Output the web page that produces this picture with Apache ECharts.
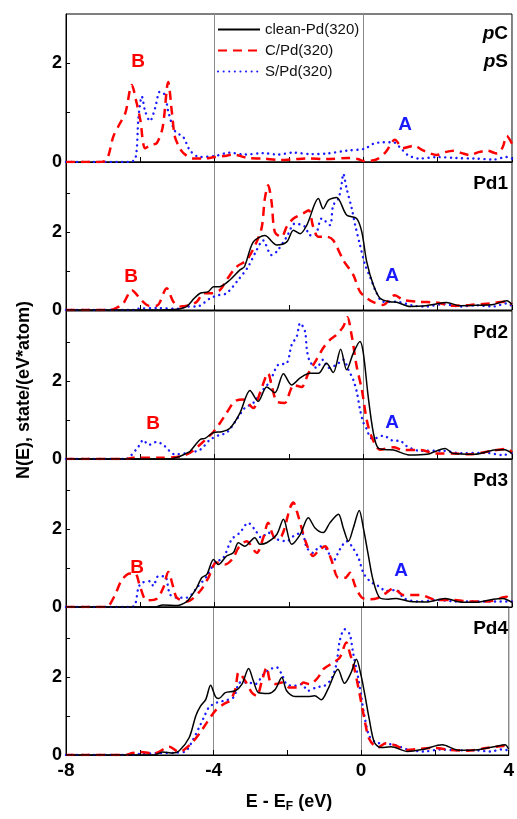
<!DOCTYPE html>
<html><head><meta charset="utf-8">
<script src="https://cdn.jsdelivr.net/npm/echarts@6/dist/echarts.min.js"></script>
<style>html,body{margin:0;padding:0;background:#fff}#c{width:517px;height:819px}</style>
</head><body><div id="c"></div>
<script>
// ---- data ----
const seriesNames = ['clean-Pd(320)', 'C/Pd(320)', 'S/Pd(320)'];
const panelNames = ['pC/pS', 'Pd1', 'Pd2', 'Pd3', 'Pd4'];
const yMaxes = [3, 3.8, 3.8, 3.8, 3.8];
const xMin = -8, xMax = 4;

// top panel: p-states of adsorbate
const pC = [[-8,0],[-7.2,0],[-6.95,0.02],[-6.85,0.15],[-6.73,0.51],[-6.55,0.78],[-6.4,1.0],[-6.23,1.56],[-6.1,1.2],[-6.0,0.85],[-5.87,0.28],[-5.7,0.35],[-5.56,0.38],[-5.4,0.7],[-5.25,1.62],[-5.15,1.0],[-5.07,0.51],[-4.95,0.3],[-4.84,0.18],[-4.6,0.07],[-4.3,0.07],[-4.0,0.1],[-3.75,0.12],[-3.5,0.15],[-3.1,0.08],[-2.7,0.07],[-2.24,0.04],[-1.8,0.06],[-1.5,0.07],[-1.0,0.06],[-0.4,0.08],[-0.15,0.06],[0,0.02],[0.35,0.05],[0.6,0.2],[0.85,0.45],[1.07,0.28],[1.35,0.33],[1.62,0.23],[1.98,0.14],[2.2,0.2],[2.43,0.23],[2.65,0.18],[2.88,0.14],[3.1,0.2],[3.33,0.23],[3.6,0.17],[3.75,0.3],[3.86,0.53],[4.0,0.37]];
const pS = [[-8,0],[-6.3,0],[-6.13,0.07],[-6.05,0.9],[-5.96,1.33],[-5.87,1.03],[-5.74,0.83],[-5.6,1.1],[-5.47,1.43],[-5.34,1.36],[-5.25,1.03],[-5.07,0.63],[-4.84,0.5],[-4.66,0.23],[-4.4,0.1],[-4.0,0.12],[-3.6,0.19],[-3.2,0.15],[-2.7,0.18],[-2.3,0.15],[-1.9,0.19],[-1.4,0.16],[-1.0,0.17],[-0.45,0.23],[0.04,0.27],[0.27,0.37],[0.54,0.4],[0.81,0.4],[0.98,0.3],[1.2,0.14],[1.5,0.07],[2.0,0.1],[2.5,0.08],[3.0,0.07],[3.5,0.05],[3.85,0.1],[4.0,0.07]];

// Pd1
const pd1Clean = [[-8,0],[-5.4,0],[-5.1,0.01],[-4.92,0.03],[-4.75,0.09],[-4.55,0.3],[-4.39,0.43],[-4.17,0.47],[-4.03,0.6],[-3.87,0.6],[-3.59,0.77],[-3.32,1.03],[-3.2,1.11],[-2.96,1.75],[-2.65,1.91],[-2.33,1.67],[-2.06,1.75],[-1.88,2.05],[-1.7,1.96],[-1.52,2.18],[-1.21,2.86],[-1.08,2.6],[-0.94,2.82],[-0.72,2.89],[-0.45,2.44],[-0.18,2.35],[-0.04,2.0],[0.09,1.24],[0.27,0.64],[0.45,0.3],[0.72,0.21],[0.9,0.2],[1.26,0.09],[1.6,0.1],[1.88,0.14],[2.24,0.19],[2.6,0.11],[3.05,0.12],[3.5,0.14],[3.86,0.24],[4.0,0.14]];
const pd1C = [[-8,0],[-6.9,0],[-6.7,0.03],[-6.46,0.17],[-6.23,0.51],[-5.98,0.26],[-5.77,0.11],[-5.56,0.11],[-5.29,0.56],[-5.11,0.21],[-4.93,0.09],[-4.7,0.12],[-4.48,0.21],[-4.3,0.43],[-4.08,0.43],[-3.86,0.51],[-3.68,0.77],[-3.41,1.11],[-3.14,1.28],[-2.87,1.75],[-2.73,2.14],[-2.65,2.86],[-2.56,3.2],[-2.47,2.78],[-2.38,2.0],[-2.2,1.88],[-2.06,2.14],[-1.88,2.35],[-1.62,2.48],[-1.47,2.56],[-1.35,2.14],[-1.21,1.88],[-0.98,1.88],[-0.81,1.79],[-0.54,1.28],[-0.27,0.9],[-0.09,0.47],[0.1,0.3],[0.27,0.2],[0.53,0.13],[0.85,0.38],[1.07,0.26],[1.52,0.21],[1.97,0.19],[2.4,0.11],[2.87,0.13],[3.4,0.17],[3.86,0.21],[4.0,0.14]];
const pd1S = [[-8,0],[-6.2,0],[-6.1,0.03],[-5.5,0.05],[-5.0,0.03],[-4.75,0.09],[-4.48,0.09],[-4.12,0.3],[-3.9,0.38],[-3.68,0.43],[-3.37,0.77],[-3.1,1.11],[-2.87,1.54],[-2.7,1.79],[-2.47,1.41],[-2.33,1.5],[-2.06,1.88],[-1.84,2.22],[-1.57,2.14],[-1.44,1.92],[-1.3,1.92],[-1.12,2.35],[-0.9,2.18],[-0.81,2.69],[-0.67,2.86],[-0.58,3.25],[-0.54,3.5],[-0.45,3.12],[-0.31,2.6],[-0.22,2.18],[-0.09,1.67],[0.05,1.15],[0.18,0.85],[0.36,0.43],[0.53,0.21],[0.89,0.21],[1.35,0.11],[1.7,0.09],[2.15,0.15],[2.6,0.09],[3.05,0.12],[3.5,0.09],[3.86,0.17],[4.0,0.1]];

// Pd2
const pd2Clean = [[-8,0],[-5.3,0],[-5.02,0.04],[-4.75,0.15],[-4.66,0.2],[-4.39,0.5],[-4.26,0.53],[-4.03,0.68],[-3.81,0.7],[-3.59,0.79],[-3.32,1.18],[-3.05,1.76],[-2.83,1.48],[-2.6,1.85],[-2.38,1.7],[-2.15,2.19],[-1.93,1.9],[-1.7,2.08],[-1.44,2.2],[-1.21,2.2],[-0.99,2.46],[-0.81,2.22],[-0.61,2.82],[-0.45,2.29],[-0.27,2.72],[-0.09,3.02],[0,2.72],[0.13,1.61],[0.27,0.67],[0.4,0.28],[0.63,0.24],[0.81,0.23],[1.26,0.1],[1.71,0.12],[2.2,0.27],[2.42,0.14],[3.0,0.12],[3.52,0.23],[3.8,0.24],[4.0,0.14]];
const pd2C = [[-8,0],[-6.4,0],[-6.2,0.03],[-5.5,0.03],[-5.02,0.05],[-4.75,0.12],[-4.6,0.2],[-4.21,0.53],[-4.03,0.7],[-3.86,0.92],[-3.68,1.18],[-3.46,1.48],[-3.23,1.53],[-2.96,1.31],[-2.78,1.7],[-2.56,2.2],[-2.47,1.9],[-2.33,1.48],[-2.11,1.44],[-1.97,1.74],[-1.88,1.9],[-1.66,1.85],[-1.48,2.2],[-1.26,2.55],[-1.08,2.85],[-0.9,3.06],[-0.72,3.19],[-0.54,3.4],[-0.43,3.64],[-0.31,3.15],[-0.18,2.38],[-0.04,1.78],[0.09,1.01],[0.22,0.58],[0.45,0.24],[0.81,0.3],[1.07,0.23],[1.52,0.23],[1.97,0.14],[2.42,0.14],[2.87,0.12],[3.4,0.2],[3.86,0.26],[4.0,0.17]];
const pd2S = [[-8,0],[-6.4,0],[-6.3,0.04],[-6.05,0.32],[-5.92,0.49],[-5.78,0.36],[-5.56,0.44],[-5.38,0.36],[-5.07,0.12],[-4.75,0.15],[-4.39,0.24],[-4.12,0.5],[-3.86,0.62],[-3.68,0.67],[-3.41,1.01],[-3.19,1.31],[-2.96,1.44],[-2.73,1.74],[-2.51,2.0],[-2.29,2.42],[-2.06,2.46],[-1.93,2.93],[-1.79,3.15],[-1.7,3.49],[-1.57,3.28],[-1.52,2.81],[-1.44,2.51],[-1.26,2.34],[-1.08,2.55],[-0.94,2.34],[-0.72,2.42],[-0.54,2.55],[-0.4,2.29],[-0.27,2.03],[-0.18,1.74],[-0.09,1.27],[0,0.94],[0.09,0.77],[0.18,0.56],[0.27,0.52],[0.54,0.6],[0.81,0.47],[0.98,0.47],[1.15,0.34],[1.52,0.21],[2.15,0.21],[2.6,0.15],[3.3,0.16],[3.75,0.1],[4.0,0.16]];

// Pd3
const pd3Clean = [[-8,0],[-5.6,0],[-5.4,0.05],[-5.0,0.04],[-4.75,0.14],[-4.66,0.24],[-4.48,0.5],[-4.35,0.75],[-4.21,0.84],[-4.03,1.22],[-3.9,1.09],[-3.68,1.31],[-3.5,1.39],[-3.36,1.65],[-3.19,1.56],[-2.92,1.78],[-2.78,1.61],[-2.6,1.65],[-2.33,1.86],[-2.15,2.25],[-1.93,1.61],[-1.7,1.86],[-1.48,2.29],[-1.3,2.03],[-1.08,1.91],[-0.9,2.16],[-0.67,2.38],[-0.54,2.03],[-0.4,1.69],[-0.27,2.03],[-0.11,2.48],[0,2.03],[0.13,1.35],[0.27,0.66],[0.45,0.23],[0.67,0.2],[0.89,0.22],[1.26,0.14],[1.7,0.13],[2.2,0.22],[2.6,0.13],[3.05,0.12],[3.5,0.2],[3.75,0.22],[4.0,0.12]];
const pd3C = [[-8,0],[-6.9,0],[-6.85,0.02],[-6.68,0.31],[-6.5,0.69],[-6.28,0.86],[-6.14,0.86],[-6.0,0.5],[-5.83,0.17],[-5.56,0.21],[-5.38,0.5],[-5.25,0.9],[-5.11,0.5],[-5.02,0.24],[-4.75,0.14],[-4.39,0.41],[-4.17,0.75],[-3.95,1.14],[-3.72,1.09],[-3.5,1.26],[-3.36,1.52],[-3.14,1.69],[-2.87,1.39],[-2.69,1.78],[-2.56,2.16],[-2.38,1.78],[-2.2,1.82],[-1.97,2.55],[-1.88,2.68],[-1.79,2.46],[-1.54,1.65],[-1.35,1.31],[-1.21,1.44],[-1.03,1.56],[-0.85,1.18],[-0.67,0.75],[-0.49,0.75],[-0.36,0.88],[-0.22,0.54],[-0.04,0.24],[0.18,0.2],[0.36,0.22],[0.6,0.35],[0.81,0.48],[1.07,0.31],[1.52,0.31],[1.97,0.18],[2.42,0.18],[2.87,0.14],[3.4,0.15],[3.86,0.26],[4.0,0.12]];
const pd3S = [[-8,0],[-6.3,0],[-6.15,0.04],[-6.05,0.5],[-5.96,0.62],[-5.74,0.66],[-5.65,0.54],[-5.52,0.79],[-5.34,0.79],[-5.2,0.32],[-5.02,0.24],[-4.75,0.24],[-4.44,0.54],[-4.21,0.79],[-3.99,1.14],[-3.77,1.26],[-3.54,1.74],[-3.32,1.91],[-3.1,2.16],[-2.92,1.99],[-2.74,1.78],[-2.56,1.91],[-2.33,1.74],[-2.06,1.69],[-1.88,1.82],[-1.66,1.91],[-1.52,1.52],[-1.35,1.39],[-1.17,1.56],[-0.99,1.48],[-0.81,1.18],[-0.63,1.48],[-0.45,1.69],[-0.31,1.56],[-0.13,1.26],[0,0.88],[0.18,0.66],[0.4,0.54],[0.63,0.41],[0.89,0.44],[1.1,0.22],[1.5,0.14],[2.0,0.18],[2.5,0.14],[3.3,0.14],[4.0,0.14]];

// Pd4
const pd4Clean = [[-8,0],[-5.6,0],[-5.38,0.08],[-5.1,0.05],[-4.93,0.11],[-4.66,0.45],[-4.48,1.01],[-4.35,1.26],[-4.21,1.43],[-4.08,1.79],[-3.95,1.5],[-3.86,1.45],[-3.68,1.6],[-3.41,1.65],[-3.23,1.82],[-3.05,2.22],[-2.92,1.9],[-2.78,1.6],[-2.51,1.58],[-2.33,1.68],[-2.15,1.99],[-2.02,1.65],[-1.79,1.5],[-1.44,1.5],[-1.26,1.52],[-1.08,1.42],[-0.9,1.69],[-0.63,2.2],[-0.45,1.84],[-0.27,2.12],[-0.13,2.46],[0,2.03],[0.09,1.6],[0.22,0.92],[0.36,0.32],[0.54,0.19],[0.81,0.21],[1.26,0.09],[1.7,0.15],[2.2,0.26],[2.6,0.13],[3.0,0.12],[3.6,0.21],[3.9,0.26],[4.0,0.15]];
const pd4C = [[-8,0],[-6.4,0],[-6.2,0.05],[-5.98,0.08],[-5.6,0.04],[-5.2,0.21],[-5.0,0.1],[-4.93,0.08],[-4.62,0.28],[-4.39,0.54],[-4.17,0.85],[-3.95,1.14],[-3.72,1.31],[-3.55,1.4],[-3.41,1.69],[-3.32,2.12],[-3.14,1.9],[-2.96,1.6],[-2.83,1.52],[-2.69,1.9],[-2.56,2.25],[-2.47,1.9],[-2.33,1.82],[-2.15,1.86],[-1.93,1.73],[-1.7,1.73],[-1.57,1.86],[-1.39,1.82],[-1.17,1.99],[-1.03,2.2],[-0.76,2.37],[-0.58,2.5],[-0.4,2.89],[-0.31,2.63],[-0.18,2.2],[-0.04,1.56],[0.09,0.92],[0.22,0.41],[0.45,0.19],[0.67,0.3],[0.89,0.26],[1.26,0.13],[1.5,0.15],[1.97,0.18],[2.42,0.13],[2.87,0.11],[3.4,0.18],[3.86,0.23],[4.0,0.15]];
const pd4S = [[-8,0],[-6.3,0],[-6.0,0.03],[-5.5,0.05],[-5.0,0.06],[-4.75,0.1],[-4.57,0.37],[-4.39,0.71],[-4.26,0.97],[-4.12,1.23],[-3.9,1.35],[-3.68,1.4],[-3.46,1.48],[-3.28,1.86],[-3.05,1.86],[-2.87,1.82],[-2.65,2.07],[-2.47,2.2],[-2.29,2.25],[-2.15,2.07],[-2.02,1.82],[-1.79,1.78],[-1.61,1.82],[-1.44,1.65],[-1.21,1.74],[-0.99,1.78],[-0.81,1.95],[-0.67,2.33],[-0.58,2.93],[-0.45,3.23],[-0.31,3.1],[-0.22,2.63],[-0.09,2.03],[0,1.52],[0.09,1.0],[0.22,0.49],[0.4,0.32],[0.54,0.3],[0.9,0.26],[1.26,0.14],[1.7,0.09],[2.15,0.14],[2.6,0.12],[3.1,0.12],[3.5,0.09],[3.8,0.14],[4.0,0.12]];

const panels = [
  [null, pC, pS],
  [pd1Clean, pd1C, pd1S],
  [pd2Clean, pd2C, pd2S],
  [pd3Clean, pd3C, pd3S],
  [pd4Clean, pd4C, pd4S]
];

// ---- styling / layout ----
const FONT = '"Liberation Sans", Arial, Helvetica, sans-serif';
const gridTops = [14, 162, 311, 459, 607];
const gridH = 148, gridLeft = 66, gridW = 446;
const lineStyles = [
  {color: '#000000', width: 1.5, type: 'solid'},
  {color: '#ff0000', width: 2.5, type: [9, 6]},
  {color: '#1a1aff', width: 2.4, type: [0.1, 5.5], cap: 'round'}
];

const grids = [], xAxes = [], yAxes = [], series = [];
panels.forEach((p, i) => {
  grids.push({left: gridLeft, top: gridTops[i], width: gridW, height: gridH, show: true,
    borderColor: '#000', borderWidth: 1, backgroundColor: 'transparent'});
  const last = i === panels.length - 1;
  xAxes.push({type: 'value', gridIndex: i, min: xMin, max: xMax, interval: 4,
    axisLine: {show: true, onZero: false, lineStyle: {color: '#000', width: 1}},
    axisTick: {show: true, inside: true, length: 5, lineStyle: {color: '#000'}},
    minorTick: {show: true, splitNumber: 2, length: 5, lineStyle: {color: '#000'}},
    splitLine: {show: true, lineStyle: {color: '#8a8a8a', width: 1}},
    axisLabel: {show: last, fontFamily: FONT, fontWeight: 'bold', fontSize: 19, color: '#000', margin: 6}
  });
  yAxes.push({type: 'value', gridIndex: i, min: 0, max: yMaxes[i], interval: 1,
    axisLine: {show: true, onZero: false, lineStyle: {color: '#000'}},
    axisTick: {show: true, inside: true, length: 4, lineStyle: {color: '#000'}},
    splitLine: {show: false},
    axisLabel: {fontFamily: FONT, fontWeight: 'bold', fontSize: 18, color: '#000', margin: 4,
      showMaxLabel: false,
      formatter: v => (v === 0 || v === 2) ? String(v) : ''}
  });
  p.forEach((d, k) => {
    if (!d) return;
    series.push({type: 'line', name: seriesNames[k], xAxisIndex: i, yAxisIndex: i,
      data: d, smooth: 0.3, symbol: 'none', showSymbol: false, silent: true,
      lineStyle: lineStyles[k], itemStyle: {color: lineStyles[k].color}, z: 5 - k});
  });
});

const labelFont = (size) => ({fontFamily: FONT, fontWeight: 'bold', fontSize: size});
function txt(x, y, text, color, align, size) {
  return {type: 'text', x: x, y: y, z: 100,
    style: {text: text, fill: color, align: align || 'center', verticalAlign: 'middle',
      font: 'bold ' + (size || 19) + 'px ' + FONT}};
}

const graphics = [
  {type: 'text', x: 508, y: 34, z: 100, style: {text: '{i|p}{n|C}', align: 'right', verticalAlign: 'middle',
    rich: {i: Object.assign({fontStyle: 'italic', fill: '#000'}, labelFont(19)), n: Object.assign({fill: '#000'}, labelFont(19))}}},
  {type: 'text', x: 508, y: 62, z: 100, style: {text: '{i|p}{n|S}', align: 'right', verticalAlign: 'middle',
    rich: {i: Object.assign({fontStyle: 'italic', fill: '#000'}, labelFont(19)), n: Object.assign({fill: '#000'}, labelFont(19))}}},
  txt(508, 184, panelNames[1], '#000', 'right'),
  txt(508, 333, panelNames[2], '#000', 'right'),
  txt(508, 481, panelNames[3], '#000', 'right'),
  txt(508, 629, panelNames[4], '#000', 'right'),
  txt(138, 62, 'B', '#ff0000'), txt(405, 125, 'A', '#1a1aff'),
  txt(131, 277, 'B', '#ff0000'), txt(392, 276, 'A', '#1a1aff'),
  txt(153, 424, 'B', '#ff0000'), txt(392, 423, 'A', '#1a1aff'),
  txt(137, 568, 'B', '#ff0000'), txt(401, 571, 'A', '#1a1aff'),
  {type: 'text', x: 24, y: 390, rotation: Math.PI / 2, z: 100,
    style: {text: 'N(E), state/(eV*atom)', fill: '#000', align: 'center', verticalAlign: 'middle', font: 'bold 18px ' + FONT}},
  {type: 'text', x: 289, y: 802, z: 100,
    style: {text: '{n|E - E}{s|F}{n| (eV)}', align: 'center', verticalAlign: 'middle',
      rich: {n: Object.assign({fill: '#000'}, labelFont(18)), s: Object.assign({fill: '#000', padding: [10, 0, 0, 0]}, labelFont(12))}}}
];

const chart = echarts.init(document.getElementById('c'), null, {renderer: 'canvas'});
chart.setOption({
  animation: false,
  backgroundColor: '#fff',
  legend: {data: seriesNames, orient: 'vertical', left: 212, top: 17, itemWidth: 42, itemHeight: 12, itemGap: 6,
    selectedMode: false, icon: 'inherit', itemStyle: {opacity: 0},
    textStyle: {fontFamily: FONT, fontSize: 15, color: '#111'}},
  grid: grids, xAxis: xAxes, yAxis: yAxes, series: series, graphic: graphics
});
</script></body></html>
